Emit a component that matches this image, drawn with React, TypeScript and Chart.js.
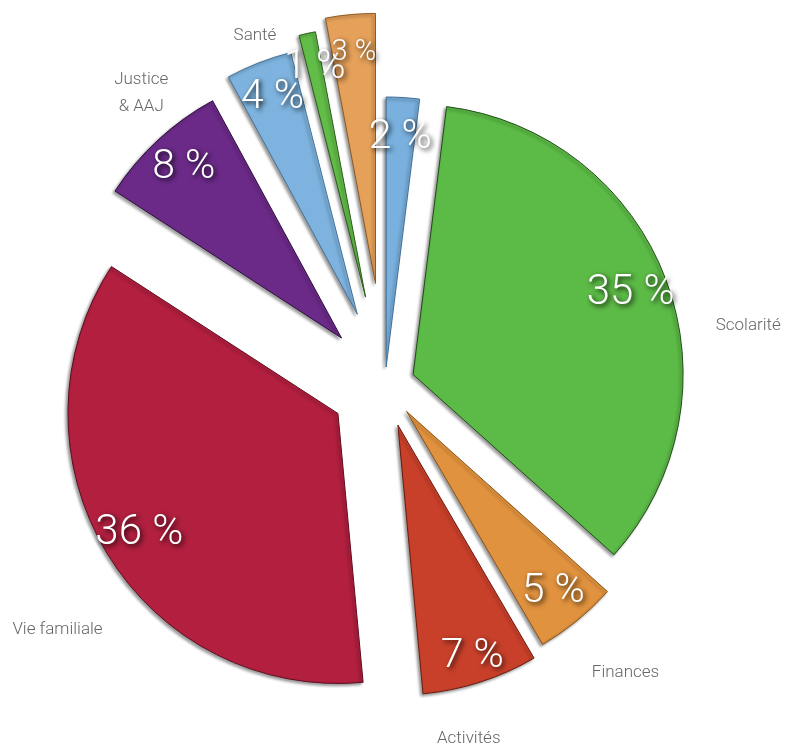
import React, { useEffect, useRef } from "react";
import { Chart, registerables } from "chart.js";

Chart.register(...registerables);

// ---- data ----
const categories = ["", "Scolarité", "Finances", "Activités", "Vie familiale", "Justice\n& AAJ", "Santé", "", ""];
const values = [2, 35, 5, 7, 36, 8, 4, 1, 3];
const valueLabels = ["2 %", "35 %", "5 %", "7 %", "36 %", "8 %", "4 %", "1 %", "3 %"];

// ---- style ----
const colors = ["#79b0de", "#5cba46", "#e0923e", "#c9402a", "#b21f3f", "#6b2a88", "#7db3de", "#62bd48", "#e5a059"];
const borders = ["#3f6f98", "#1f4d16", "#8a5215", "#6b1a0e", "#5e0d1d", "#2e0d3d", "#44729a", "#2a5a1a", "#8e5a22"];
const explode = [18, 30, 34, 42, 55, 64, 76, 90, 102];
const valueFontSizes = [41, 42, 41, 41, 42, 41, 41, 40, 29];
const valueRadial = [0.85, 0.86, 0.86, 0.9, 0.86, 0.86, 0.86, 0.87, 0.86];
// outer category label placement (angle clockwise from 12 o'clock, distance from pie centre)
const catAngle = [0, 80.8, 140.1, 166.7, 233.2, 320.1, 339.6, 0, 0];
const catDist = [0, 368, 375, 364, 409, 380, 373, 0, 0];

const explodePlugin = {
  id: "explode",
  afterDatasetsUpdate(chart: any) {
    const meta = chart.getDatasetMeta(0);
    meta.data.forEach((arc: any, i: number) => {
      const mid = (arc.startAngle + arc.endAngle) / 2;
      arc.$cx = arc.x;
      arc.$cy = arc.y;
      arc.x = arc.x + Math.cos(mid) * explode[i];
      arc.y = arc.y + Math.sin(mid) * explode[i];
    });
  },
  beforeDatasetsDraw(chart: any) {
    const ctx = chart.ctx;
    ctx.save();
    ctx.shadowColor = "rgba(0,0,0,0.4)";
    ctx.shadowBlur = 3;
    ctx.shadowOffsetX = -2;
    ctx.shadowOffsetY = 2;
  },
  afterDatasetsDraw(chart: any) {
    chart.ctx.restore();
  },
  afterDraw(chart: any) {
    const ctx = chart.ctx;
    const meta = chart.getDatasetMeta(0);
    // value labels
    meta.data.forEach((arc: any, i: number) => {
      const mid = (arc.startAngle + arc.endAngle) / 2;
      const r = arc.outerRadius * valueRadial[i];
      const px = arc.x + Math.cos(mid) * r;
      const py = arc.y + Math.sin(mid) * r;
      ctx.save();
      ctx.font = `300 ${valueFontSizes[i]}px Roboto, "Liberation Sans", Arial, sans-serif`;
      ctx.textAlign = "center";
      ctx.textBaseline = "middle";
      ctx.shadowColor = "rgba(0,0,0,0.9)";
      ctx.shadowBlur = 5;
      ctx.shadowOffsetX = 2;
      ctx.shadowOffsetY = 2;
      ctx.fillStyle = "#ffffff";
      ctx.fillText(valueLabels[i], px, py);
      ctx.restore();
    });
    // category labels
    meta.data.forEach((arc: any, i: number) => {
      if (!categories[i]) return;
      const a = (catAngle[i] - 90) * Math.PI / 180;
      const px = arc.$cx + Math.cos(a) * catDist[i];
      const py = arc.$cy + Math.sin(a) * catDist[i];
      const lines = categories[i].split("\n");
      ctx.save();
      ctx.font = `300 17px Roboto, "Liberation Sans", Arial, sans-serif`;
      ctx.textAlign = "center";
      ctx.textBaseline = "middle";
      ctx.fillStyle = "#666666";
      const lh = 27;
      lines.forEach((ln: string, k: number) => {
        ctx.fillText(ln, px, py + (k - (lines.length - 1) / 2) * lh);
      });
      ctx.restore();
    });
  },
};

export default function App() {
  const ref = useRef<HTMLCanvasElement>(null);
  useEffect(() => {
    if (!ref.current) return;
    const chart = new Chart(ref.current, {
      type: "pie",
      data: {
        labels: categories,
        datasets: [
          {
            data: values,
            backgroundColor: colors,
            borderColor: borders,
            borderWidth: 1,
          },
        ],
      },
      options: {
        responsive: false,
        animation: false,
        radius: 270,
        layout: { padding: { left: 0, right: 17, top: 23, bottom: 0 } },
        plugins: {
          legend: { display: false },
          tooltip: { enabled: false },
        },
        events: [],
      } as any,
      plugins: [explodePlugin],
    });
    return () => chart.destroy();
  }, []);
  return (
    <div style={{ position: "absolute", left: 0, top: 0, width: 787, height: 747, background: "#fff" }}>
      <canvas ref={ref} width={787} height={747} style={{ width: 787, height: 747, display: "block" }} />
    </div>
  );
}
